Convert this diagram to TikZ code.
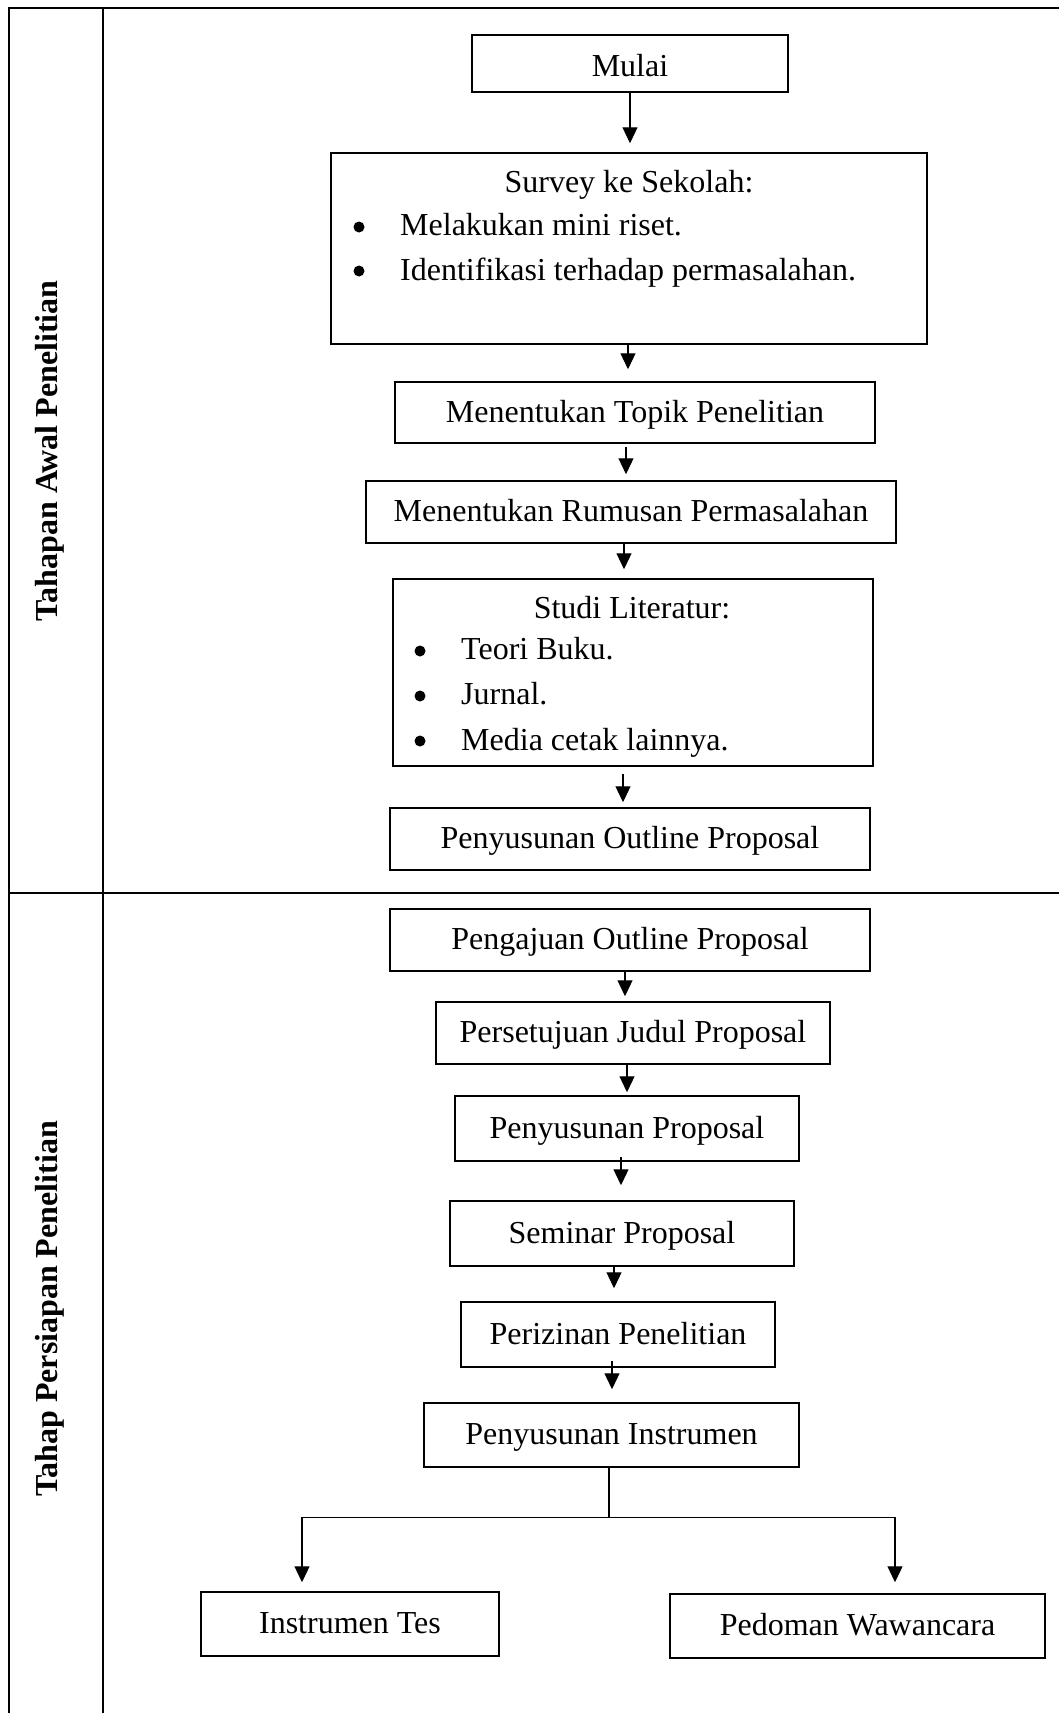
\documentclass[tikz,border=0pt]{standalone}
\usepackage{fontspec}
\setmainfont{Liberation Serif}
\usetikzlibrary{arrows.meta}
\begin{document}
\begin{tikzpicture}[x=1pt,y=-1pt,
  every node/.style={font=\fontsize{32}{40}\selectfont},
  box/.style={draw, line width=1.5pt, inner sep=0pt, text height=24pt, text depth=5pt, align=center},
  txt/.style={inner sep=0pt, text height=22pt, text depth=7pt},
  dot/.style={circle, fill, inner sep=0pt, minimum size=11pt},
  lbl/.style={inner sep=0pt, rotate=90, font=\fontsize{32}{40}\selectfont\bfseries},
  frame/.style={line width=2pt},
  arr/.style={line width=1.2pt, -{Triangle[length=16pt,width=15pt]}},
  ln/.style={line width=1.2pt}]
\useasboundingbox (0,0) rectangle (1059,1713);
% table frame
\draw[frame] (1059,7.5) -- (9,7.5) -- (9,1713);
\draw[frame] (103,7.5) -- (103,1713);
\draw[frame] (9,893) -- (1059,893);
% phase labels
\node[lbl] (phase1) at (50,451) {Tahapan Awal Penelitian};
\node[lbl] (phase2) at (50,1309) {Tahap Persiapan Penelitian};
% stage 1
\node[box, minimum width=316pt, minimum height=57pt, text height=28pt, text depth=2pt] (mulai) at (630,63.5) {Mulai};
\node[box, minimum width=596pt, minimum height=191pt] (survey) at (629,248.5) {};
\node[txt] (surveyt) at (629,185) {Survey ke Sekolah:};
\node[dot] (sb1) at (359,227) {};
\node[txt, anchor=west] (st1) at (400,228) {Melakukan mini riset.};
\node[dot] (sb2) at (359,271) {};
\node[txt, anchor=west] (st2) at (400,273) {Identifikasi terhadap permasalahan.};
\node[box, minimum width=480pt, minimum height=61pt] (topik) at (635,412.5) {Menentukan Topik Penelitian};
\node[box, minimum width=530pt, minimum height=62pt] (rumusan) at (631,512) {Menentukan Rumusan Permasalahan};
\node[box, minimum width=480pt, minimum height=187pt] (studi) at (633,672.5) {};
\node[txt] (studit) at (632,611) {Studi Literatur:};
\node[dot] (lb1) at (420,651) {};
\node[txt, anchor=west] (lt1) at (461,652) {Teori Buku.};
\node[dot] (lb2) at (420,696) {};
\node[txt, anchor=west] (lt2) at (461,697) {Jurnal.};
\node[dot] (lb3) at (420,741) {};
\node[txt, anchor=west] (lt3) at (461,743) {Media cetak lainnya.};
\node[box, minimum width=480pt, minimum height=62pt] (outline) at (630,839) {Penyusunan Outline Proposal};
% stage 2
\node[box, minimum width=480pt, minimum height=62pt] (pengajuan) at (630,940) {Pengajuan Outline Proposal};
\node[box, minimum width=394pt, minimum height=62pt] (persetujuan) at (633,1033) {Persetujuan Judul Proposal};
\node[box, minimum width=344pt, minimum height=65pt] (proposal) at (627,1128.5) {Penyusunan Proposal};
\node[box, minimum width=344pt, minimum height=65pt] (seminar) at (622,1233.5) {Seminar Proposal};
\node[box, minimum width=314pt, minimum height=65pt] (izin) at (618,1334.5) {Perizinan Penelitian};
\node[box, minimum width=375pt, minimum height=64pt] (instrumen) at (611.5,1435) {Penyusunan Instrumen};
\node[box, minimum width=298pt, minimum height=64pt] (tes) at (350,1624) {Instrumen Tes};
\node[box, minimum width=375pt, minimum height=64pt] (pedoman) at (857.5,1626) {Pedoman Wawancara};
% arrows
\draw[arr, shorten >=9pt] (mulai.south) -- (survey.north -| mulai.south);
\draw[arr, shorten >=12pt] ([xshift=-1pt]survey.south) -- ([xshift=-7pt]topik.north);
\draw[arr, shorten <=3pt, shorten >=6pt] ([xshift=-9pt]topik.south) -- ([xshift=-5pt]rumusan.north);
\draw[arr, shorten >=9pt] ([xshift=-7pt]rumusan.south) -- ([xshift=-9pt]studi.north);
\draw[arr, shorten <=7pt, shorten >=5pt] ([xshift=-10pt]studi.south) -- ([xshift=-7pt]outline.north);
\draw[arr, shorten >=5pt] ([xshift=-5pt]pengajuan.south) -- ([xshift=-8pt]persetujuan.north);
\draw[arr, shorten >=3pt] ([xshift=-6pt]persetujuan.south) -- (proposal.north);
\draw[arr, shorten <=-5pt, shorten >=15pt] ([xshift=-6pt]proposal.south) -- ([xshift=-1pt]seminar.north);
\draw[arr, shorten >=13pt] ([xshift=-8pt]seminar.south) -- ([xshift=-4pt]izin.north);
\draw[arr, shorten <=-7pt, shorten >=13pt] ([xshift=-6pt]izin.south) -- ([xshift=0.5pt]instrumen.north);
\draw[ln] ([xshift=-2.5pt]instrumen.south) -- ++(0,50) coordinate (split);
\draw[arr] (split) -| ([xshift=-48pt,yshift=9pt]tes.north);
\draw[arr] (split) -| ([xshift=37.5pt,yshift=11pt]pedoman.north);
\end{tikzpicture}
\end{document}
